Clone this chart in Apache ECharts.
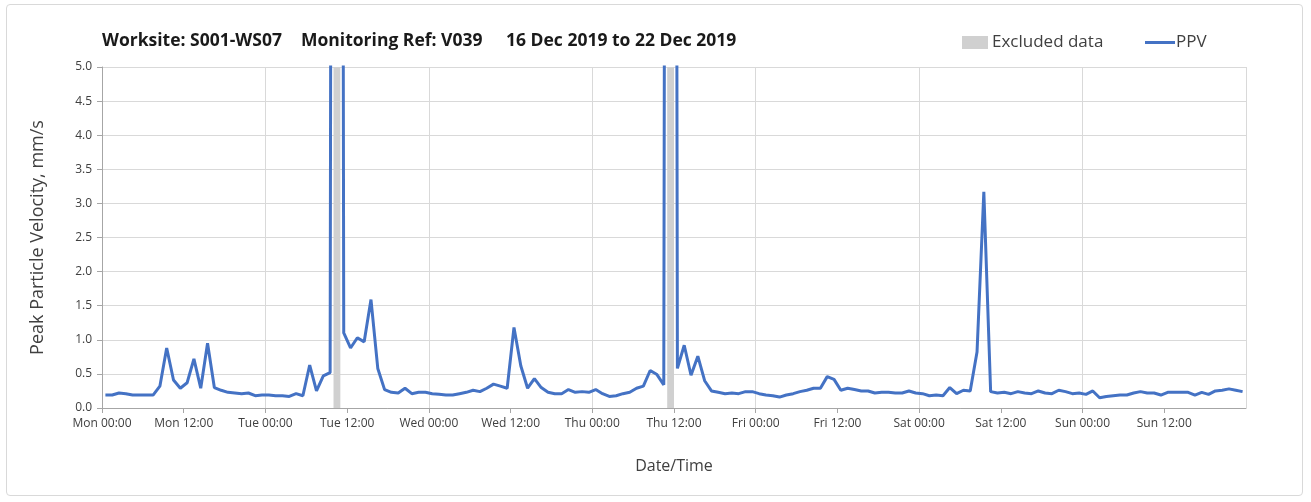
<!DOCTYPE html>
<html>
<head>
<meta charset="utf-8">
<script src="https://cdn.jsdelivr.net/npm/echarts@6/dist/echarts.min.js"></script>
<style>
html,body{margin:0;padding:0;background:#fff;}
#frame{position:absolute;left:6px;top:4px;width:1297px;height:492px;border:1px solid #d9d9d9;border-radius:4px;box-sizing:border-box;}
#chart{position:absolute;left:0;top:0;width:1311px;height:502px;}
</style>
</head>
<body>
<div id="frame"></div>
<div id="chart"></div>
<script>
// ---- data ----
const titleParts = ['Worksite: S001-WS07', 'Monitoring Ref: V039', '16 Dec 2019 to 22 Dec 2019'];
const dayNames = ['Mon', 'Tue', 'Wed', 'Thu', 'Fri', 'Sat', 'Sun'];
const hourLabels = ['00:00', '12:00'];
// hourly PPV readings (mm/s), first reading at Mon 00:30
const ppv = [
  0.19, 0.19, 0.22, 0.21, 0.19, 0.19, 0.19, 0.19, 0.32, 0.88, 0.41, 0.29,
  0.37, 0.72, 0.29, 0.95, 0.30, 0.26, 0.23, 0.22, 0.21, 0.22, 0.18, 0.19,
  0.19, 0.18, 0.18, 0.17, 0.21, 0.18, 0.63, 0.25, 0.47, 0.52, 60.0, 1.10,
  0.88, 1.03, 0.97, 1.59, 0.58, 0.27, 0.23, 0.22, 0.29, 0.21, 0.23, 0.23,
  0.21, 0.20, 0.19, 0.19, 0.21, 0.23, 0.26, 0.24, 0.29, 0.35, 0.32, 0.29,
  1.18, 0.62, 0.29, 0.43, 0.30, 0.23, 0.21, 0.21, 0.27, 0.23, 0.24, 0.23,
  0.27, 0.21, 0.17, 0.18, 0.21, 0.23, 0.29, 0.32, 0.55, 0.49, 0.34, 60.0,
  0.58, 0.92, 0.48, 0.76, 0.40, 0.25, 0.23, 0.21, 0.22, 0.21, 0.24, 0.24,
  0.21, 0.19, 0.18, 0.16, 0.19, 0.21, 0.24, 0.26, 0.29, 0.29, 0.46, 0.42,
  0.26, 0.29, 0.27, 0.25, 0.25, 0.22, 0.23, 0.23, 0.22, 0.22, 0.25, 0.22,
  0.21, 0.18, 0.19, 0.18, 0.30, 0.21, 0.26, 0.25, 0.82, 3.17, 0.24, 0.22,
  0.23, 0.21, 0.24, 0.22, 0.21, 0.25, 0.22, 0.21, 0.26, 0.24, 0.21, 0.22,
  0.20, 0.25, 0.15, 0.17, 0.18, 0.19, 0.19, 0.22, 0.24, 0.22, 0.22, 0.19,
  0.23, 0.23, 0.23, 0.23, 0.19, 0.23, 0.20, 0.25, 0.26, 0.28, 0.26, 0.24
];
// excluded-data windows, hours from Mon 00:00
const excludedStart = [34, 83];
const excludedEnd = [35, 84];
const yMin = 0, yMax = 5, yStep = 0.5;
const xMin = 0, xMax = 168, xStep = 12;

// ---- build ----
const ppvData = ppv.map((v, i) => [i + 0.5, v]);
const bands = excludedStart.map((s, i) => [{ xAxis: s }, { xAxis: excludedEnd[i] }]);
const FONT = '"Open Sans", Lato, sans-serif';
const textCol = '#404040';
const titleStyle = { fontFamily: FONT, fontSize: 17.5, fontWeight: 'bold', color: '#1a1a1a' };

const chart = echarts.init(document.getElementById('chart'), null, { renderer: 'canvas' });
chart.setOption({
  animation: false,
  title: [
    { text: titleParts[0], left: 97, top: 27, textStyle: titleStyle },
    { text: titleParts[1], left: 296, top: 27, textStyle: titleStyle },
    { text: titleParts[2], left: 501, top: 27, textStyle: titleStyle }
  ],
  legend: [
    { data: [{ name: 'Excluded data', icon: 'rect' }], left: 957, top: 29, itemWidth: 26, itemHeight: 13, itemGap: 5,
      textStyle: { fontFamily: FONT, fontSize: 17, color: textCol, padding: [0, 0, 0, -1] } },
    { data: [{ name: 'PPV', icon: 'rect' }], left: 1140, top: 29, itemWidth: 30, itemHeight: 3, itemGap: 0,
      textStyle: { fontFamily: FONT, fontSize: 17, color: textCol, padding: [0, 0, 0, -4] } }
  ],
  grid: { left: 102, right: 65, top: 67, bottom: 94, containLabel: false },
  xAxis: {
    type: 'value', min: xMin, max: xMax, interval: xStep,
    name: 'Date/Time', nameLocation: 'middle', nameGap: 50,
    nameTextStyle: { fontFamily: FONT, fontSize: 16, color: textCol },
    axisLine: { show: true, lineStyle: { color: '#a6a6a6', width: 1 } },
    axisTick: { show: true, length: 5, lineStyle: { color: '#a6a6a6' } },
    axisLabel: {
      fontFamily: FONT, fontSize: 12, color: textCol, margin: 10, showMaxLabel: false,
      formatter: function (v) {
        if (v >= xMax) return '';
        return dayNames[Math.floor(v / 24)] + ' ' + hourLabels[(v % 24) / 12];
      }
    },
    splitLine: { show: true, lineStyle: { color: ['#d9d9d9', 'rgba(0,0,0,0)'], width: 1 } }
  },
  yAxis: {
    type: 'value', min: yMin, max: yMax, interval: yStep,
    name: 'Peak Particle Velocity, mm/s', nameLocation: 'middle', nameGap: 55, nameRotate: 90,
    nameTextStyle: { fontFamily: FONT, fontSize: 18, color: textCol },
    axisLine: { show: true, lineStyle: { color: '#a6a6a6', width: 1 } },
    axisTick: { show: true, length: 5, lineStyle: { color: '#a6a6a6' } },
    axisLabel: { fontFamily: FONT, fontSize: 12, color: textCol, margin: 10, formatter: v => v.toFixed(1) },
    splitLine: { show: true, lineStyle: { color: '#d9d9d9', width: 1 } }
  },
  series: [
    {
      name: 'Excluded data', type: 'line', data: [], itemStyle: { color: '#d0d0d0' },
      markArea: { silent: true, itemStyle: { color: '#d0d0d0' }, data: bands }
    },
    {
      name: 'PPV', type: 'line', data: ppvData, showSymbol: false, clip: true,
      lineStyle: { color: '#4472c4', width: 3 }, itemStyle: { color: '#4472c4' }
    }
  ]
});
</script>
</body>
</html>
